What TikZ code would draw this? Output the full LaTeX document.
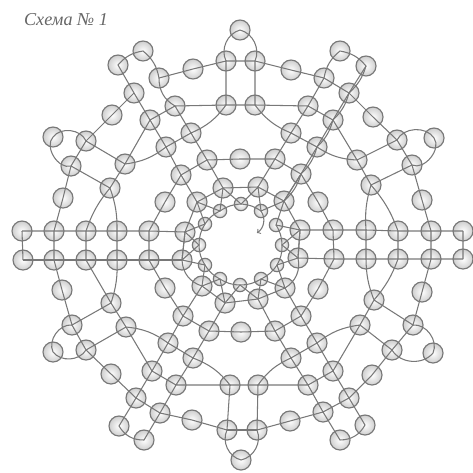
\documentclass[tikz,border=0pt]{standalone}
\usepackage{fontspec}
\newfontfamily\titlefont{Liberation Serif}
\definecolor{beadline}{gray}{0.47}
\tikzset{
  bead/.style={circle,draw=beadline,line width=1pt,inner sep=0pt,minimum size=0.6cm,
    shading=radial,inner color=white,outer color=gray!38},
  smallbead/.style={bead,minimum size=0.4cm},
  thread/.style={draw=beadline,line width=0.9pt}
}
\begin{document}
\begin{tikzpicture}[x=0.03cm,y=-0.03cm]
\useasboundingbox (0,0) rectangle (473,472);
\node[text=black!60,font=\titlefont\itshape\fontsize{15.5}{16}\selectfont] (title) at (66,20) {Схема № 1};
% Inner small beads
\node[smallbead] (s1) at (241,204) {}; \node[smallbead] (s2) at (261,211) {}; \node[smallbead] (s3) at (276,225) {};
\node[smallbead] (s4) at (282,245) {}; \node[smallbead] (s5) at (277,265) {}; \node[smallbead] (s6) at (261,279) {};
\node[smallbead] (s7) at (240,285) {}; \node[smallbead] (s8) at (220,279) {}; \node[smallbead] (s9) at (205,265) {};
\node[smallbead] (s10) at (199,245) {}; \node[smallbead] (s11) at (205,224) {}; \node[smallbead] (s12) at (220,211) {};
% Middle ring
\node[bead] (m1) at (258,187) {}; \node[bead] (m2) at (284,201) {}; \node[bead] (m3) at (300,230) {};
\node[bead] (m4) at (298,258) {}; \node[bead] (m5) at (285,288) {}; \node[bead] (m6) at (258,299) {};
\node[bead] (m7) at (225,303) {}; \node[bead] (m8) at (202,286) {}; \node[bead] (m9) at (182,260) {};
\node[bead] (m10) at (185,232) {}; \node[bead] (m11) at (197,202) {}; \node[bead] (m12) at (223,188) {};
% Third ring
\node[bead] (r1) at (275,159) {}; \node[bead] (r2) at (301,174) {}; \node[bead] (r3) at (318,202) {};
\node[bead] (r4) at (333,230) {}; \node[bead] (r5) at (334,259) {}; \node[bead] (r6) at (318,289) {};
\node[bead] (r7) at (301,316) {}; \node[bead] (r8) at (275,331) {}; \node[bead] (r9) at (241,332) {};
\node[bead] (r10) at (209,331) {}; \node[bead] (r11) at (183,316) {}; \node[bead] (r12) at (165,288) {};
\node[bead] (r13) at (149,260) {}; \node[bead] (r14) at (149,231) {}; \node[bead] (r15) at (165,202) {};
\node[bead] (r16) at (181,175) {}; \node[bead] (r17) at (207,160) {}; \node[bead] (r18) at (240,159) {};
% Top sector
\node[bead] (top) at (240,30) {}; \node[bead] (ta) at (226,61) {}; \node[bead] (tb) at (255,61) {};
\node[bead] (tc) at (226,105) {}; \node[bead] (td) at (255,105) {}; \node[bead] (te) at (193,69) {};
\node[bead] (tf) at (291,70) {};
% Upper left
\node[bead] (ul1) at (159,78) {}; \node[bead] (ul2) at (143,51) {}; \node[bead] (ul3) at (118,65) {};
\node[bead] (ul4) at (134,93) {}; \node[bead] (ul5) at (175,106) {}; \node[bead] (ul6) at (191,133) {};
\node[bead] (ul7) at (150,120) {}; \node[bead] (ul8) at (166,147) {}; \node[bead] (ul9) at (112,115) {};
\node[bead] (ul10) at (86,141) {}; \node[bead] (ul11) at (53,137) {}; \node[bead] (ul12) at (125,164) {};
\node[bead] (ul13) at (71,166) {}; \node[bead] (ul14) at (110,188) {}; \node[bead] (ul15) at (63,198) {};
% Upper right
\node[bead] (ur1) at (324,78) {}; \node[bead] (ur2) at (340,51) {}; \node[bead] (ur3) at (366,66) {};
\node[bead] (ur4) at (349,93) {}; \node[bead] (ur5) at (308,106) {}; \node[bead] (ur6) at (291,133) {};
\node[bead] (ur7) at (333,120) {}; \node[bead] (ur8) at (317,147) {}; \node[bead] (ur9) at (373,117) {};
\node[bead] (ur10) at (397,140) {}; \node[bead] (ur11) at (434,138) {}; \node[bead] (ur12) at (357,160) {};
\node[bead] (ur13) at (412,165) {}; \node[bead] (ur14) at (371,185) {}; \node[bead] (ur15) at (422,200) {};
% Left and right rows
\node[bead] (la1) at (22,231) {}; \node[bead] (la2) at (54,231) {}; \node[bead] (la3) at (86,231) {}; \node[bead] (la4) at (117,231) {};
\node[bead] (lb1) at (23,260) {}; \node[bead] (lb2) at (54,260) {}; \node[bead] (lb3) at (86,260) {}; \node[bead] (lb4) at (117,260) {};
\node[bead] (ra1) at (366,230) {}; \node[bead] (ra2) at (398,231) {}; \node[bead] (ra3) at (431,231) {}; \node[bead] (ra4) at (463,231) {};
\node[bead] (rb1) at (366,259) {}; \node[bead] (rb2) at (398,259) {}; \node[bead] (rb3) at (431,259) {}; \node[bead] (rb4) at (463,259) {};
% Lower left
\node[bead] (ll1) at (62,290) {}; \node[bead] (ll2) at (72,325) {}; \node[bead] (ll3) at (111,303) {};
\node[bead] (ll4) at (126,327) {}; \node[bead] (ll5) at (53,352) {}; \node[bead] (ll6) at (86,350) {};
\node[bead] (ll7) at (111,374) {}; \node[bead] (ll8) at (136,398) {}; \node[bead] (ll9) at (152,371) {};
\node[bead] (ll10) at (168,343) {}; \node[bead] (ll11) at (193,358) {}; \node[bead] (ll12) at (176,385) {};
\node[bead] (ll13) at (160,413) {}; \node[bead] (ll14) at (119,426) {}; \node[bead] (ll15) at (144,440) {};
\node[bead] (ll16) at (192,420) {}; \node[bead] (ll17) at (227,430) {}; \node[bead] (ll18) at (230,385) {};
\node[bead] (bot) at (241,460) {};
% Lower right
\node[bead] (lr1) at (422,292) {}; \node[bead] (lr2) at (413,325) {}; \node[bead] (lr3) at (374,300) {};
\node[bead] (lr4) at (360,325) {}; \node[bead] (lr5) at (433,353) {}; \node[bead] (lr6) at (392,350) {};
\node[bead] (lr7) at (372,375) {}; \node[bead] (lr8) at (349,398) {}; \node[bead] (lr9) at (333,371) {};
\node[bead] (lr10) at (317,343) {}; \node[bead] (lr11) at (291,358) {}; \node[bead] (lr12) at (308,385) {};
\node[bead] (lr13) at (323,412) {}; \node[bead] (lr14) at (365,425) {}; \node[bead] (lr15) at (340,440) {};
\node[bead] (lr16) at (290,421) {}; \node[bead] (lr17) at (257,430) {}; \node[bead] (lr18) at (258,385) {};
% Inner circle and loose end
\coordinate (tail) at (257,233);
\draw[thread] (s3.center) to[bend left=15] (s4.center) to[bend left=15] (s5.center) to[bend left=15] (s6.center)
  to[bend left=15] (s7.center) to[bend left=15] (s8.center) to[bend left=15] (s9.center) to[bend left=15] (s10.center)
  to[bend left=15] (s11.center) to[bend left=15] (s12.center) to[bend left=15] (s1.center) to[bend left=15] (s2.center);
\draw[thread,->] (s2.center) to[bend left=45] (tail);
% Zigzag between inner circle and middle ring
\draw[thread] (m12.center) -- (s1.center) -- (m1.center) -- (s2.center) -- (m2.center) -- (s3.center) -- (m3.center)
  -- (s4.center) -- (m4.center) -- (s5.center) -- (m5.center) -- (s6.center) -- (m6.center) -- (s7.center) -- (m7.center)
  -- (s8.center) -- (m8.center) -- (s9.center) -- (m9.center) -- (s10.center) -- (m10.center) -- (s11.center) -- (m11.center)
  -- (s12.center) -- (m12.center);
% Middle ring
\draw[thread] (m12.center) -- (m1.center) -- (m2.center) -- (m3.center) -- (m4.center) to[bend left=35] (m5.center) -- (m6.center)
  -- (m7.center) -- (m8.center) to[bend left=35] (m9.center) -- (m10.center) -- (m11.center) -- (m12.center);
% Spokes to third ring
\draw[thread] (r17.center) -- (m12.center) (r1.center) -- (m1.center) (r2.center) -- (m2.center) (r16.center) -- (m11.center)
  (r7.center) -- (m5.center) (r8.center) -- (m6.center) (r10.center) -- (m7.center) (r11.center) -- (m8.center);
\draw[thread] (r17.center) -- (r18.center) -- (r1.center) -- (r2.center) -- (r3.center) -- (r4.center);
\draw[thread] (r17.center) -- (r16.center) -- (r15.center) -- (r14.center);
\draw[thread] (r10.center) -- (r9.center) -- (r8.center);
\draw[thread] (r13.center) -- (r12.center) -- (r11.center) -- (r10.center);
\draw[thread] (r5.center) -- (r6.center) -- (r7.center) -- (r8.center);
% Rows
\draw[thread] (la1.center) -- (la2.center) -- (la3.center) -- (la4.center) -- (r14.center) -- (m10.center);
\draw[thread] (lb1.center) -- (lb2.center) -- (lb3.center) -- (lb4.center) -- (r13.center) -- (m9.center);
\draw[thread] (m3.center) -- (r4.center) -- (ra1.center) -- (ra2.center) -- (ra3.center) -- (ra4.center);
\draw[thread] (m4.center) -- (r5.center) -- (rb1.center) -- (rb2.center) -- (rb3.center) -- (rb4.center);
\draw[thread] (la1.center) -- (lb1.center) (la2.center) -- (lb2.center) (la3.center) -- (lb3.center) (la4.center) -- (lb4.center)
  (r14.center) -- (r13.center) (m10.center) -- (m9.center) (m3.center) -- (m4.center) (r4.center) -- (r5.center)
  (ra1.center) -- (rb1.center) (ra2.center) -- (rb2.center) (ra3.center) -- (rb3.center) (ra4.center) -- (rb4.center);
% Top sector
\draw[thread] (top.center) to[bend right=50] (ta.center) -- (tb.center) to[bend right=50] (top.center);
\draw[thread] (ul1.center) -- (te.center) -- (ta.center) -- (tc.center) -- (td.center) -- (tb.center);
\draw[thread] (tc.center) -- (ul5.center) to[bend left=30] (ul1.center);
\draw[thread] (ur1.center) -- (tf.center) -- (tb.center) (td.center) -- (ur5.center) -- (ur1.center);
% Upper left
\draw[thread] (ul1.center) to[bend right=20] (ul2.center) to[bend right=20] (ul3.center) -- (ul4.center) -- (ul9.center) -- (ul10.center);
\draw[thread] (ul4.center) -- (ul7.center) -- (ul8.center) -- (r16.center) (ul7.center) -- (ul5.center) -- (ul6.center)
  (tc.center) to[bend left=15] (ul6.center) -- (ul8.center) (ul6.center) -- (r17.center);
\draw[thread] (ul7.center) -- (ul12.center) to[bend right=15] (ul8.center) (ul12.center) -- (ul14.center) (ul10.center) -- (ul12.center);
\draw[thread] (ul10.center) to[bend right=60] (ul11.center) to[bend right=75] (ul13.center) -- (ul10.center);
\draw[thread] (ul13.center) -- (ul14.center) (ul13.center) -- (ul15.center) -- (la2.center);
\draw[thread] (ul14.center) to[bend right=10] (la3.center) (ul14.center) to[bend left=10] (la4.center);
% Upper right
\draw[thread] (ur1.center) to[bend left=20] (ur2.center) to[bend left=20] (ur3.center) -- (ur4.center) -- (ur7.center) -- (ur8.center) -- (r2.center) -- (m2.center);
\draw[thread] (ur3.center) to[bend left=15] (ur4.center) to[bend left=15] (ur7.center) to[bend left=15] (ur8.center) to[bend left=15] (r2.center) to[bend left=15] (m2.center);
\draw[thread] (ur1.center) -- (ur4.center) -- (ur9.center) -- (ur10.center) (ur5.center) -- (ur7.center) (ur5.center) -- (ur6.center)
  (td.center) to[bend right=15] (ur6.center) -- (ur8.center) (ur6.center) -- (r1.center);
\draw[thread] (ur7.center) -- (ur12.center) (ur8.center) to[bend right=15] (ur12.center) -- (ur10.center) (ur12.center) -- (ur14.center) -- (ur13.center);
\draw[thread] (ur10.center) to[bend left=60] (ur11.center) to[bend left=75] (ur13.center) -- (ur10.center);
\draw[thread] (ur13.center) -- (ur15.center) -- (ra3.center);
\draw[thread] (ur14.center) to[bend right=10] (ra1.center) (ur14.center) to[bend left=10] (ra2.center);
% Lower left
\draw[thread] (lb2.center) -- (ll1.center) -- (ll2.center) -- (ll3.center) (lb3.center) -- (ll3.center) (lb4.center) to[bend left=10] (ll3.center) -- (ll4.center);
\draw[thread] (ll2.center) to[bend right=60] (ll5.center) to[bend right=55] (ll6.center) -- (ll2.center);
\draw[thread] (ll6.center) -- (ll4.center) to[bend left=15] (ll10.center) -- (r11.center) (ll4.center) -- (ll9.center);
\draw[thread] (ll6.center) -- (ll7.center) -- (ll8.center) -- (ll9.center) -- (ll10.center) -- (ll11.center) -- (r10.center);
\draw[thread] (ll9.center) -- (ll12.center) -- (ll11.center) to[bend left=15] (ll18.center) -- (ll12.center) -- (ll13.center) -- (ll8.center);
\draw[thread] (ll8.center) -- (ll14.center) to[bend right=30] (ll15.center) -- (ll13.center) -- (ll16.center) -- (ll17.center) -- (ll18.center) -- (lr18.center);
\draw[thread] (ll17.center) -- (lr17.center);
\draw[thread] (ll17.center) to[bend right=50] (bot.center) (lr17.center) to[bend left=50] (bot.center);
% Lower right
\draw[thread] (rb3.center) -- (lr1.center) -- (lr2.center) -- (lr3.center) (rb1.center) to[bend right=10] (lr3.center) (rb2.center) to[bend left=10] (lr3.center) -- (lr4.center);
\draw[thread] (lr2.center) to[bend left=60] (lr5.center) to[bend left=55] (lr6.center) -- (lr2.center);
\draw[thread] (lr6.center) -- (lr4.center) to[bend right=15] (lr10.center) -- (r7.center) (lr4.center) -- (lr9.center);
\draw[thread] (lr6.center) -- (lr7.center) -- (lr8.center) -- (lr9.center) -- (lr10.center) -- (lr11.center) -- (r8.center);
\draw[thread] (lr9.center) -- (lr12.center) -- (lr11.center) to[bend right=15] (lr18.center) -- (lr12.center) -- (lr13.center) -- (lr8.center);
\draw[thread] (lr13.center) -- (lr15.center) to[bend right=30] (lr14.center) -- (lr8.center) (lr13.center) -- (lr16.center) -- (lr17.center) -- (lr18.center);
\end{tikzpicture}
\end{document}
